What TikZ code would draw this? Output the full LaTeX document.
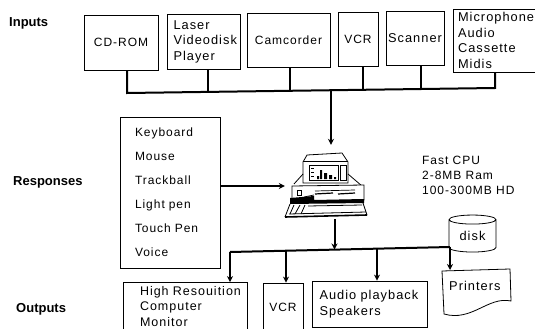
\documentclass[tikz,border=0pt]{standalone}
\usepackage{fontspec}
\setmainfont{Liberation Sans}
\newfontfamily\scanfont[LetterSpace=8]{Liberation Sans}
\usetikzlibrary{arrows.meta, shapes.geometric}

\begin{document}
\begin{tikzpicture}[
 x=1pt, y=-1pt,
 unit/.style={rectangle, draw=black, line width=0.8pt, inner sep=0pt, align=left,
   font=\fontsize{12}{15.5}\selectfont\scanfont},
 wideunit/.style={unit, font=\fontsize{12.8}{15.5}\selectfont\scanfont},
 plain/.style={inner sep=0pt, align=left, font=\fontsize{12}{15}\selectfont\scanfont},
 heading/.style={inner sep=0pt, font=\fontsize{13}{15}\selectfont\bfseries},
 bus/.style={line width=2pt, draw=black},
 flow/.style={->, >={Stealth[length=6pt,width=6pt]}, line width=2pt, draw=black}
]
\useasboundingbox (0,0) rectangle (535,329);
\clip (0,0) rectangle (535,329);

\node[heading, anchor=west] (inputs) at (9,23) {Inputs};
\node[heading, anchor=west] (responses) at (13,182) {Responses};
\node[heading, anchor=west] (outputs) at (16,309) {Outputs};

\node[unit, minimum width=74pt, minimum height=55pt] (cdrom) at (121,42.5) {CD-ROM};
\node[wideunit, minimum width=73pt, minimum height=55pt, text width=60pt] (laser) at (203.5,41.5) {Laser\\Videodisk\\Player};
\node[unit, minimum width=83pt, minimum height=54pt] (camcorder) at (288.5,40) {Camcorder};
\node[unit, minimum width=40pt, minimum height=54pt] (vcrin) at (358,39) {VCR};
\node[wideunit, minimum width=58pt, minimum height=54pt] (scanner) at (415,38) {Scanner};
\node[wideunit, minimum width=86pt, minimum height=63pt, text width=76pt] (mic) at (496,40.5) {Microphone\\Audio\\Cassette\\Midis};

\coordinate (busl) at (127,93);
\coordinate (busr) at (495,88);
\coordinate (taplaser) at (208,92);
\coordinate (tapcam) at (290,91);
\coordinate (tapvcr) at (363,90);
\coordinate (tapscan) at (421,89);
\coordinate (busout) at (331,90);
\draw[bus] (cdrom.south -| busl) -- (busl) -- (busr) -- (mic.south -| busr);
\draw[bus] (laser.south -| taplaser) -- (taplaser);
\draw[bus] (camcorder.south -| tapcam) -- (tapcam);
\draw[bus] (vcrin.south -| tapvcr) -- (tapvcr);
\draw[bus] (scanner.south -| tapscan) -- (tapscan);

\node[unit, minimum width=100pt, minimum height=151pt, text width=70pt,
  font=\fontsize{12}{24}\selectfont\scanfont] (devices) at (170,192.5)
  {Keyboard\\Mouse\\Trackball\\Light pen\\Touch Pen\\Voice};

\node[minimum width=82pt, minimum height=66pt, inner sep=0pt] (pc) at (326,186) {};
% monitor
\draw[line width=0.8pt, fill=white] (303,162) -- (307,155) -- (342,153) -- (348,162) -- (348,183) -- (303,183) -- cycle;
\draw[line width=0.8pt] (303,161) -- (348,161);
\draw[line width=0.8pt] (309,165) rectangle (338,180);
\draw[line width=0.8pt] (340,165) rectangle (346,180);
\fill (317,176) rectangle (319,179) (320,170) rectangle (322,179) (324,173) rectangle (327,179) (329,175) rectangle (332,179) (334,177) rectangle (336,179);
\draw[line width=0.6pt] (311,168) -- (314,168) (311,172) -- (314,172) (311,176) -- (314,176);
% case
\draw[line width=0.8pt] (303,174) -- (294,184) (348,174) -- (362,186);
\draw[line width=0.8pt, fill=white] (292,186) -- (364,185) -- (364,200) -- (292,202) -- cycle;
\fill (290,198) -- (314,196) -- (314,200) -- (364,199) -- (364,203) -- (290,204) -- cycle;
\draw[line width=0.7pt] (297,190) rectangle (301,195);
\draw[line width=1.2pt] (315,194) -- (333,193) (338,194) -- (355,193);
\draw[line width=0.7pt] (315,191) -- (355,190) (304,197) -- (314,195);
% keyboard
\draw[line width=0.8pt] (290,204) -- (285,217) (363,203) -- (367,215);
\draw[line width=1.6pt] (285,217) -- (367,215);
\draw[line width=0.8pt] (289,214) -- (366,212);
\draw[line width=0.8pt] (294,205) -- (290,214) (300,205) -- (295,214) (305,205) -- (301,214) (308,206) -- (362,205);

\node[plain, anchor=west] (specs) at (422,175) {Fast CPU\\2-8MB Ram\\100-300MB HD};

\node[cylinder, shape border rotate=90, aspect=0.35, draw=black, line width=0.8pt, inner sep=0pt,
  minimum width=47pt, minimum height=37pt, font=\fontsize{12.8}{15}\selectfont\scanfont] (disk) at (472.5,236) {\raisebox{-2pt}{disk}};

\node[unit, minimum width=124pt, minimum height=48pt, text width=120pt,
  font=\fontsize{12.5}{15.6}\selectfont\scanfont] (hires) at (185,306.5) {\hspace*{15pt}High Resouition\\\hspace*{15pt}Computer\\\hspace*{15pt}Monitor};
\node[unit, minimum width=40pt, minimum height=48pt] (vcrout) at (283,307) {VCR};
\node[wideunit, minimum width=115pt, minimum height=46pt, text width=100pt,
  font=\fontsize{12.8}{16}\selectfont\scanfont] (audio) at (369.5,304) {Audio playback\\Speakers};

\node[plain, font=\fontsize{12.8}{15}\selectfont\scanfont, anchor=west] (printers) at (449,286) {Printers};
\draw[line width=0.8pt] (442,271) -- (510,269) -- (511,301)
  .. controls (488,296) and (472,322) .. (444,314) -- cycle;

\coordinate (outl) at (230,252);
\coordinate (outr) at (450,247);
\coordinate (outjoin) at (334.5,249.5);
\coordinate (tapvcrout) at (286,250.7);
\coordinate (tapaudio) at (377,248.7);
\coordinate (printin) at (450,270);
\draw[bus] (outl) -- (outr);
\draw[flow] (busout) -- ([xshift=5pt,yshift=8pt]pc.north);
\draw[flow] (devices.east |- pc.west) -- (pc.west);
\draw[flow] (pc.south -| outjoin) -- (outjoin);
\draw[flow] (outl) -- (hires.north -| outl);
\draw[flow] (tapvcrout) -- (vcrout.north -| tapvcrout);
\draw[flow] (tapaudio) -- (audio.north -| tapaudio);
\draw[flow] (outr) -- (printin);
\end{tikzpicture}
\end{document}
